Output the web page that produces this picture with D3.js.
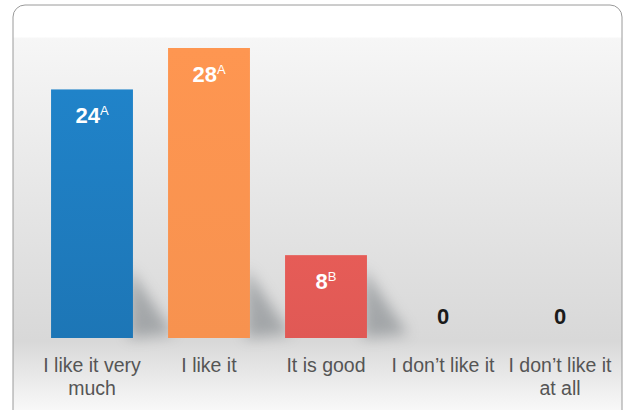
<!DOCTYPE html>
<html>
<head>
<meta charset="utf-8">
<script src="https://cdn.jsdelivr.net/npm/d3@7"></script>
<style>
  body { margin: 0; background: #fff; }
  svg { display: block; }
</style>
</head>
<body>
<div id="chart"></div>
<script>
// Datos del gráfico
const categorias = ["I like it very much", "I like it", "It is good", "I don\u2019t like it", "I don\u2019t like it at all"];
const lineasEtiqueta = [["I like it very", "much"], ["I like it"], ["It is good"], ["I don\u2019t like it"], ["I don\u2019t like it", "at all"]];
const valores = [24, 28, 8, 0, 0];
const letras = ["A", "A", "B", "", ""];
const coloresBarra = ["#1f7fc3", "#f7924f", "#e05955", "#999", "#999"];

const ancho = 629;
const alto = 410;
const margen = { top: 19, right: 10, bottom: 72, left: 33.5 };

const svg = d3.select("#chart")
  .append("svg")
  .attr("width", ancho)
  .attr("height", alto);

const defs = svg.append("defs");

// Fondo degradado
const fondo = defs.append("linearGradient")
  .attr("id", "fondo").attr("x1", 0).attr("y1", 0).attr("x2", 0).attr("y2", 1);
fondo.append("stop").attr("offset", "0").attr("stop-color", "#ffffff");
fondo.append("stop").attr("offset", "0.075").attr("stop-color", "#ffffff");
fondo.append("stop").attr("offset", "0.08").attr("stop-color", "#f6f6f6");
fondo.append("stop").attr("offset", "0.8").attr("stop-color", "#d8d8d8");
fondo.append("stop").attr("offset", "0.9").attr("stop-color", "#ececec");
fondo.append("stop").attr("offset", "1").attr("stop-color", "#ffffff");

coloresBarra.forEach((c, i) => {
  const g = defs.append("linearGradient")
    .attr("id", "barra" + i).attr("x1", 0).attr("y1", 0).attr("x2", 0).attr("y2", 1);
  g.append("stop").attr("offset", "0").attr("stop-color", d3.color(c).brighter(0.08));
  g.append("stop").attr("offset", "1").attr("stop-color", i === 0 ? d3.color(c).darker(0.2) : c);
});

defs.append("filter").attr("id", "difuso")
  .attr("x", "-50%").attr("y", "-50%").attr("width", "200%").attr("height", "200%")
  .append("feGaussianBlur").attr("stdDeviation", 7);

svg.append("rect")
  .attr("x", 13).attr("y", 5)
  .attr("width", 609).attr("height", 420)
  .attr("rx", 12)
  .attr("fill", "url(#fondo)")
  .attr("stroke", "#9a9a9a")
  .attr("stroke-width", 1);

// Escalas
const x = d3.scaleBand()
  .domain(categorias)
  .range([margen.left, margen.left + 585])
  .paddingInner(0.3)
  .paddingOuter(0.15);

const y = d3.scaleLinear()
  .domain([0, 28])
  .range([alto - margen.bottom, 48]);

// Sombras de las barras
svg.selectAll(".sombra")
  .data(valores.filter(v => v > 0))
  .enter()
  .append("path")
  .attr("fill", "#6d7378")
  .attr("opacity", 0.5)
  .attr("filter", "url(#difuso)")
  .attr("d", (d, i) => {
    const x0 = x(categorias[i]) + x.bandwidth() - 4;
    const yb = y(0);
    const h = Math.min(yb - y(d), 70);
    return `M${x0},${yb - h} L${x0 + 35},${yb - 18} L${x0 + 45},${yb - 4} L${x0},${yb} Z`;
  });

// Barras
svg.selectAll(".barra")
  .data(valores)
  .enter()
  .append("rect")
  .attr("x", (d, i) => x(categorias[i]))
  .attr("y", d => y(d))
  .attr("width", x.bandwidth())
  .attr("height", d => y(0) - y(d))
  .attr("fill", (d, i) => `url(#barra${i})`);

// Etiquetas de valor
const etiquetas = svg.selectAll(".valor")
  .data(valores)
  .enter()
  .append("text")
  .attr("x", (d, i) => x(categorias[i]) + x.bandwidth() / 2)
  .attr("y", d => d > 0 ? y(d) + 34 : y(0) - 14)
  .attr("text-anchor", "middle")
  .style("font-family", "Liberation Sans, Arial, sans-serif")
  .style("font-weight", "bold")
  .style("font-size", "22px")
  .attr("fill", d => d > 0 ? "#fff" : "#1a1a1a");

etiquetas.append("tspan").text(d => d);
etiquetas.append("tspan")
  .attr("dy", -8)
  .style("font-size", "13px")
  .style("font-weight", "normal")
  .text((d, i) => letras[i]);

// Etiquetas del eje
const eje = svg.selectAll(".categoria")
  .data(categorias)
  .enter()
  .append("text")
  .attr("x", d => x(d) + x.bandwidth() / 2)
  .attr("y", 372)
  .attr("text-anchor", "middle")
  .style("font-family", "Liberation Sans, Arial, sans-serif")
  .style("font-size", "19.5px")
  .attr("fill", "#555");

eje.selectAll("tspan")
  .data((d, i) => lineasEtiqueta[i])
  .enter()
  .append("tspan")
  .attr("x", function () { return d3.select(this.parentNode).attr("x"); })
  .attr("dy", (d, i) => i === 0 ? 0 : 23)
  .text(d => d);
</script>
</body>
</html>
